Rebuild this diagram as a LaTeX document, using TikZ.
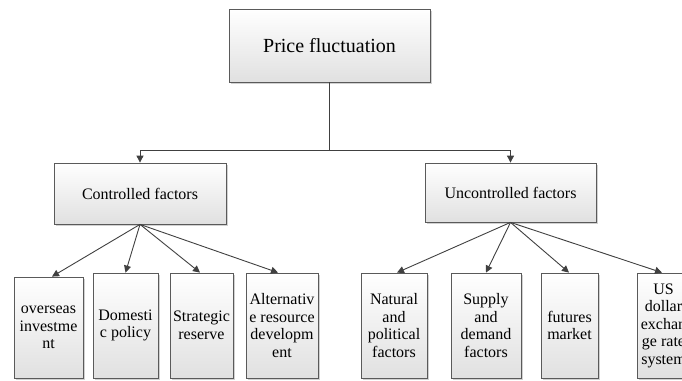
\documentclass[tikz,border=0pt]{standalone}
\usepackage{fontspec}
\setmainfont{Liberation Serif}
\usepackage{xcolor}
\usetikzlibrary{arrows.meta,shadows,calc,positioning}

\definecolor{linegray}{HTML}{404040}
\definecolor{edgegray}{HTML}{5A5A5A}

\begin{document}
\begin{tikzpicture}[x=1pt,y=-1pt,
  box/.style={draw=edgegray,line width=0.8pt,top color=white,bottom color=black!12,
    drop shadow={shadow xshift=2pt,shadow yshift=-2pt,fill=black!18,opacity=1},
    inner sep=1pt,align=center,font=\fontsize{16}{17.5}\selectfont},
  leaf/.style={box,minimum height=105pt},
  link/.style={draw=linegray,line width=0.9pt},
  arr/.style={link,-{Triangle[length=7pt,width=7pt]}}]

\useasboundingbox (0,0) rectangle (682,380);

% Top box
\node[box,minimum width=201pt,minimum height=73pt,font=\fontsize{20}{22}\selectfont] (top) at (329.5,45.5) {Price fluctuation};

% Two groups
\node[box,minimum width=172pt,minimum height=61pt] (ctrl) at (140,193.5) {Controlled factors};
\node[box,minimum width=171pt,minimum height=59pt] (unctrl) at (510.5,192.5) {Uncontrolled factors};

% Controlled leaves
\node[leaf,minimum width=69pt,minimum height=101pt] (oversea) at (48.5,327.5) {overseas\\investme\\nt};
\node[leaf,minimum width=65pt] (domestic) at (125.5,325.5) {Domesti\\c policy};
\node[leaf,minimum width=63pt] (reserve) at (201.5,325.5) {Strategic\\reserve};
\node[leaf,minimum width=72pt] (altres) at (282,325.5) {Alternativ\\e resource\\developm\\ent};

% Uncontrolled leaves
\node[leaf,minimum width=66pt] (natural) at (394,325.5) {Natural\\and\\political\\factors};
\node[leaf,minimum width=70pt] (supply) at (486,325.5) {Supply\\and\\demand\\factors};
\node[leaf,minimum width=57pt] (futures) at (569.5,325.5) {futures\\market};
\node[leaf,minimum width=53pt] (usd) at (663.5,325.5) {US\\dollar\\exchan\\ge rate\\system};

% Connectors
\coordinate (split) at (329.5,150);
\draw[link] (top.south) -- (split);
\draw[arr] (split) -| (ctrl.north);
\draw[arr] (split) -| (unctrl.north);

\draw[arr] (ctrl.south) -- ([xshift=3.5pt]oversea.north);
\draw[arr] (ctrl.south) -- (domestic.north);
\draw[arr] (ctrl.south) -- ([xshift=-1.5pt]reserve.north);
\draw[arr] (ctrl.south) -- ([xshift=-4pt]altres.north);

\draw[arr] (unctrl.south) -- ([xshift=3pt]natural.north);
\draw[arr] (unctrl.south) -- (supply.north);
\draw[arr] (unctrl.south) -- ([xshift=-0.5pt]futures.north);
\draw[arr] (unctrl.south) -- ([xshift=-1.5pt]usd.north);

\end{tikzpicture}
\end{document}
